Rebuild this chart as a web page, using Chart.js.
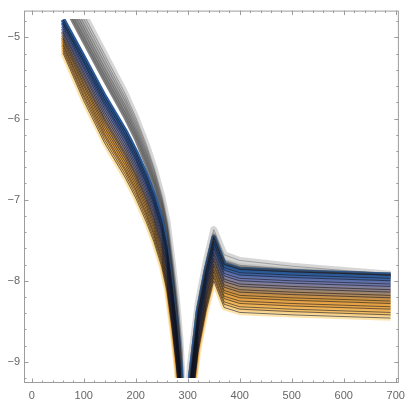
<!DOCTYPE html>
<html>
<head>
<meta charset="utf-8">
<script src="https://cdn.jsdelivr.net/npm/chart.js@4.4.1/dist/chart.umd.min.js"></script>
<style>
  html, body { margin: 0; padding: 0; background: #fff; }
  #wrap { width: 411px; height: 402px; }
</style>
</head>
<body>
<div id="wrap"><canvas id="myChart"></canvas></div>
<script>
const xs = [60, 100, 140, 180, 200, 220, 235, 250, 260, 270, 278, 285, 295, 305, 320, 335, 350, 370, 400, 500, 690]

// gray curves, outermost (lightest) first
const g0 = [-4.23, -4.72, -5.21, -5.70, -5.99, -6.32, -6.61, -6.96, -7.27, -7.77, -8.22, -8.72, -10.00, -9.05, -8.28, -7.78, -7.37, -7.68, -7.75, -7.82, -7.92]
const g1 = [-4.29, -4.77, -5.26, -5.75, -6.03, -6.36, -6.64, -6.99, -7.30, -7.80, -8.25, -8.75, -10.03, -9.13, -8.33, -7.83, -7.42, -7.75, -7.81, -7.86, -7.93]
const g2 = [-4.34, -4.83, -5.31, -5.79, -6.07, -6.40, -6.68, -7.02, -7.33, -7.83, -8.28, -8.78, -10.06, -9.16, -8.35, -7.85, -7.44, -7.76, -7.83, -7.87, -7.93]
const g3 = [-4.40, -4.88, -5.37, -5.84, -6.12, -6.43, -6.71, -7.05, -7.36, -7.85, -8.30, -8.80, -10.09, -9.17, -8.36, -7.86, -7.45, -7.78, -7.84, -7.88, -7.93]
const g4 = [-4.45, -4.93, -5.42, -5.88, -6.16, -6.47, -6.75, -7.08, -7.39, -7.88, -8.33, -8.83, -10.12, -9.18, -8.37, -7.87, -7.46, -7.79, -7.85, -7.88, -7.93]
const g5 = [-4.51, -4.99, -5.47, -5.93, -6.20, -6.51, -6.78, -7.11, -7.42, -7.91, -8.36, -8.86, -10.15, -9.19, -8.37, -7.87, -7.46, -7.79, -7.85, -7.89, -7.93]
const g6 = [-4.56, -5.04, -5.52, -5.98, -6.24, -6.55, -6.81, -7.14, -7.44, -7.94, -8.39, -8.89, -10.18, -9.20, -8.38, -7.88, -7.47, -7.80, -7.86, -7.89, -7.93]

// highlighted blue curve
const blue = [-4.78, -5.25, -5.73, -6.16, -6.41, -6.70, -6.95, -7.26, -7.56, -8.05, -8.50, -9.00, -10.30, -9.20, -8.38, -7.88, -7.47, -7.80, -7.86, -7.89, -7.93]

// curves below the blue one, from lavender down to pale yellow
const s1 = [-4.81, -5.29, -5.77, -6.20, -6.45, -6.74, -6.99, -7.30, -7.60, -8.09, -8.54, -9.04, -10.33, -9.23, -8.41, -7.91, -7.51, -7.84, -7.90, -7.93, -7.97]
const s2 = [-4.83, -5.32, -5.81, -6.24, -6.49, -6.78, -7.03, -7.34, -7.64, -8.12, -8.57, -9.07, -10.37, -9.27, -8.45, -7.95, -7.54, -7.87, -7.93, -7.96, -8.00]
const s3 = [-4.86, -5.36, -5.84, -6.27, -6.52, -6.81, -7.06, -7.37, -7.67, -8.16, -8.61, -9.11, -10.40, -9.30, -8.48, -7.98, -7.58, -7.91, -7.97, -8.00, -8.04]
const s4 = [-4.89, -5.39, -5.88, -6.31, -6.56, -6.85, -7.10, -7.41, -7.71, -8.20, -8.65, -9.15, -10.43, -9.33, -8.51, -8.01, -7.61, -7.94, -8.00, -8.03, -8.07]
const s5 = [-4.92, -5.43, -5.92, -6.35, -6.60, -6.89, -7.14, -7.45, -7.75, -8.24, -8.69, -9.19, -10.47, -9.37, -8.55, -8.05, -7.65, -7.98, -8.04, -8.07, -8.11]
const s6 = [-4.94, -5.46, -5.96, -6.39, -6.64, -6.93, -7.18, -7.49, -7.79, -8.27, -8.72, -9.22, -10.50, -9.40, -8.58, -8.08, -7.68, -8.01, -8.07, -8.10, -8.14]
const s7 = [-4.97, -5.50, -6.00, -6.43, -6.68, -6.97, -7.22, -7.53, -7.83, -8.31, -8.76, -9.26, -10.53, -9.43, -8.61, -8.11, -7.72, -8.05, -8.11, -8.14, -8.18]
const s8 = [-5.00, -5.53, -6.03, -6.46, -6.71, -7.00, -7.25, -7.56, -7.86, -8.35, -8.80, -9.30, -10.56, -9.46, -8.64, -8.14, -7.75, -8.08, -8.14, -8.17, -8.21]
const s9 = [-5.02, -5.57, -6.07, -6.50, -6.75, -7.04, -7.29, -7.60, -7.90, -8.38, -8.83, -9.33, -10.60, -9.50, -8.68, -8.18, -7.79, -8.12, -8.18, -8.21, -8.25]
const s10 = [-5.05, -5.60, -6.11, -6.54, -6.79, -7.08, -7.33, -7.64, -7.94, -8.42, -8.87, -9.37, -10.63, -9.53, -8.71, -8.21, -7.82, -8.15, -8.21, -8.24, -8.28]
const s11 = [-5.08, -5.64, -6.15, -6.58, -6.83, -7.12, -7.37, -7.68, -7.98, -8.46, -8.91, -9.41, -10.66, -9.56, -8.74, -8.24, -7.86, -8.19, -8.25, -8.28, -8.32]
const s12 = [-5.10, -5.67, -6.19, -6.62, -6.87, -7.16, -7.41, -7.72, -8.02, -8.49, -8.94, -9.44, -10.70, -9.60, -8.78, -8.28, -7.89, -8.22, -8.28, -8.31, -8.35]
const s13 = [-5.13, -5.71, -6.22, -6.65, -6.90, -7.19, -7.44, -7.75, -8.05, -8.53, -8.98, -9.48, -10.73, -9.63, -8.81, -8.31, -7.93, -8.26, -8.32, -8.35, -8.39]
const s14 = [-5.16, -5.74, -6.26, -6.69, -6.94, -7.23, -7.48, -7.79, -8.09, -8.57, -9.02, -9.52, -10.76, -9.66, -8.84, -8.34, -7.96, -8.29, -8.35, -8.38, -8.42]
const s15 = [-5.19, -5.78, -6.30, -6.73, -6.98, -7.27, -7.52, -7.83, -8.13, -8.61, -9.06, -9.56, -10.80, -9.70, -8.88, -8.38, -8.00, -8.33, -8.39, -8.42, -8.46]

const xTicks = [0, 100, 200, 300, 400, 500, 600, 700]
const yTicks = [-9, -8, -7, -6, -5]

// drawing order, bottom to top
const curves = [g0, g1, g2, g3, g4, g5, g6, s15, s14, s13, s12, s11, s10, s9, s8, s7, s6, s5, s4, s3, s2, s1, blue]
const colors = [
  '#d6d6d6', '#c6c6c6', '#b6b6b6', '#a6a6a6', '#989898', '#8c8c8c', '#808080',
  '#fde4ad', '#f8d088', '#f4c068', '#f0b456', '#eaa84a', '#e4a244', '#d89a40', '#c6904a',
  '#b08a5c', '#9c8672', '#8c8088', '#7e7e9e', '#6e78ac', '#5a70ac', '#3d64a2', '#2b5a97'
]
const widths = [7, 4.5, 4.5, 4.5, 4.5, 4.5, 4.5, 5.5, 4.5, 4.5, 4.5, 4.5, 4.5, 4.5, 4.5,
  4.5, 4.5, 4.5, 4.5, 4.5, 4.5, 4.5, 5]

function toPoints (values) {
  return values.map((v, i) => ({ x: xs[i], y: v }))
}

function buildDatasets () {
  const datasets = []
  const n = curves.length
  const clip = { top: -8.5, bottom: -5, left: 0, right: 0 }
  curves.forEach((c, i) => {
    datasets.push({
      data: toPoints(c),
      borderColor: colors[i],
      borderWidth: widths[i],
      order: 1000 - i,
      clip
    })
  })
  curves.forEach((c, i) => {
    datasets.push({
      data: toPoints(c),
      borderColor: i < 7 ? 'rgba(60,60,60,0.35)' : 'rgba(15,15,25,0.58)',
      borderWidth: 1,
      order: 1000 - n - i,
      clip
    })
  })
  return datasets
}

const frameTicks = {
  id: 'frameTicks',
  afterDraw (chart) {
    const { ctx, chartArea: a } = chart
    const x = chart.scales.x
    const y = chart.scales.y
    ctx.save()
    ctx.strokeStyle = '#9c9c9c'
    ctx.lineWidth = 1
    ctx.strokeRect(a.left + 0.5, a.top + 0.5, a.right - a.left - 1, a.bottom - a.top - 1)
    ctx.beginPath()
    for (let v = 0; v <= 700; v += 20) {
      const px = Math.round(x.getPixelForValue(v)) + 0.5
      const len = v % 100 === 0 ? 4.5 : 2.5
      ctx.moveTo(px, a.bottom)
      ctx.lineTo(px, a.bottom - len)
      ctx.moveTo(px, a.top)
      ctx.lineTo(px, a.top + len)
    }
    for (let k = -46; k <= -24; k++) {
      const py = Math.round(y.getPixelForValue(k / 5)) + 0.5
      const len = k % 5 === 0 ? 4.5 : 2.5
      ctx.moveTo(a.left, py)
      ctx.lineTo(a.left + len, py)
      ctx.moveTo(a.right, py)
      ctx.lineTo(a.right - len, py)
    }
    ctx.stroke()
    ctx.restore()
  }
}

const tickFont = { family: 'Liberation Sans', size: 11 }

const ctx = document.getElementById('myChart').getContext('2d')
// eslint-disable-next-line no-unused-vars
const myChart = new Chart(ctx, {
  type: 'line',
  data: { datasets: buildDatasets() },
  options: {
    responsive: true,
    maintainAspectRatio: false,
    animation: false,
    layout: { padding: { top: 8, right: 8.5, left: 0, bottom: 0 } },
    elements: {
      point: { radius: 0 },
      line: { tension: 0, borderJoinStyle: 'round', borderCapStyle: 'butt', fill: false }
    },
    plugins: { legend: { display: false }, tooltip: { enabled: false } },
    scales: {
      x: {
        type: 'linear',
        min: -15,
        max: 706,
        afterFit: s => { s.height = 19 },
        afterBuildTicks: s => { s.ticks = xTicks.map(v => ({ value: v })) },
        grid: { display: false, drawTicks: false },
        border: { display: false },
        ticks: { autoSkip: false, maxRotation: 0, padding: 6, color: '#666', font: tickFont, callback: v => String(v) }
      },
      y: {
        type: 'linear',
        min: -9.26,
        max: -4.67,
        afterFit: s => { s.width = 24 },
        afterBuildTicks: s => { s.ticks = yTicks.map(v => ({ value: v })) },
        grid: { display: false, drawTicks: false },
        border: { display: false },
        ticks: { autoSkip: false, padding: 4, color: '#666', font: tickFont, callback: v => '\u2212' + Math.abs(v) }
      }
    }
  },
  plugins: [frameTicks]
})
</script>
</body>
</html>
